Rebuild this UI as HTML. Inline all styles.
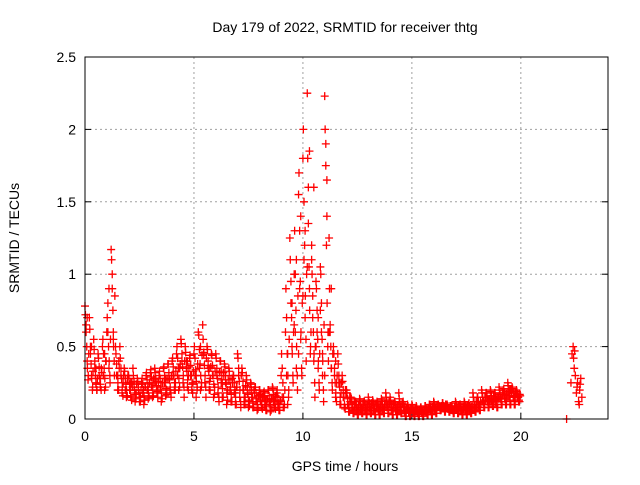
<!DOCTYPE html>
<html><head><meta charset="utf-8"><style>
body{margin:0;background:#fff}
svg text{font-family:"Liberation Sans",sans-serif;font-size:14px;fill:#000}
</style></head><body>
<svg id="c" width="640" height="480" xmlns="http://www.w3.org/2000/svg">
<rect width="640" height="480" fill="#fff"/>
<text x="345" y="32" text-anchor="middle">Day 179 of 2022, SRMTID for receiver thtg</text>
<text x="0" y="0" text-anchor="middle" transform="translate(19,238) rotate(-90)">SRMTID / TECUs</text>
<text x="345" y="471" text-anchor="middle">GPS time / hours</text>
<g id="grid"></g>
<g id="ticks"></g>
<g id="pts"></g>
<rect x="85" y="57" width="523" height="362" fill="none" stroke="#000" stroke-width="1"/>
</svg>
<script>
const xTicks=[0,5,10,15,20];
const yTicks=[0,0.5,1,1.5,2,2.5];
const yTickLabels=["0","0.5","1","1.5","2","2.5"];
const binStep=0.2;
const binVals=[
[0.78,0.6,0.4,0.3],[0.7,0.45,0.3,0.22],[0.55,0.35,0.25,0.2],[0.45,0.3,0.22,0.35],[0.5,0.3,0.2,0.4],
[0.6,0.8,0.35,0.25],[1.17,1.0,0.6,0.3],[0.5,0.3,0.2,0.4],[0.5,0.3,0.18,0.25],[0.35,0.2,0.15,0.28],
[0.3,0.2,0.15,0.25],[0.35,0.22,0.12,0.18],[0.28,0.2,0.12,0.15],[0.25,0.18,0.1,0.22],[0.3,0.2,0.14,0.25],
[0.32,0.22,0.15,0.28],[0.35,0.25,0.18,0.2],[0.3,0.2,0.12,0.25],[0.35,0.25,0.16,0.2],[0.38,0.28,0.2,0.15],
[0.4,0.3,0.2,0.25],[0.45,0.3,0.2,0.35],[0.55,0.4,0.25,0.15],[0.5,0.35,0.22,0.3],[0.42,0.3,0.2,0.25],
[0.45,0.3,0.15,0.22],[0.6,0.35,0.2,0.25],[0.65,0.45,0.25,0.15],[0.5,0.35,0.2,0.28],[0.45,0.3,0.15,0.22],
[0.45,0.3,0.18,0.12],[0.4,0.25,0.15,0.32],[0.38,0.25,0.1,0.2],[0.35,0.2,0.12,0.28],[0.3,0.18,0.1,0.22],
[0.45,0.3,0.15,0.08],[0.35,0.2,0.1,0.15],[0.3,0.18,0.08,0.12],[0.25,0.15,0.08,0.2],[0.22,0.12,0.06,0.16],
[0.2,0.12,0.08,0.15],[0.18,0.1,0.06,0.13],[0.2,0.1,0.05,0.14],[0.22,0.12,0.08,0.16],[0.18,0.1,0.06,0.12],
[0.3,0.15,0.08,0.1],[0.6,0.3,0.1,0.2],[1.25,0.8,0.5,0.25],[1.0,0.6,0.35,0.2],[1.55,0.9,0.55,0.3],
[1.8,1.1,0.7,0.4],[2.25,1.6,0.9,0.5],[1.1,0.7,0.4,0.15],[0.95,0.6,0.35,0.2],[1.05,0.6,0.3,0.12],
[2.23,1.9,1.4,0.6],[1.25,0.6,0.35,0.2],[0.5,0.3,0.15,0.25],[0.45,0.25,0.1,0.18],[0.3,0.15,0.08,0.2],
[0.2,0.1,0.05,0.15],[0.15,0.08,0.04,0.12],[0.12,0.06,0.03,0.09],[0.14,0.07,0.04,0.1],[0.12,0.06,0.03,0.09],
[0.15,0.08,0.04,0.11],[0.13,0.07,0.03,0.1],[0.12,0.06,0.03,0.09],[0.14,0.07,0.04,0.1],[0.18,0.08,0.04,0.12],
[0.15,0.07,0.03,0.1],[0.12,0.06,0.03,0.09],[0.18,0.08,0.04,0.11],[0.12,0.05,0.02,0.08],[0.1,0.05,0.02,0.07],
[0.1,0.05,0.02,0.07],[0.09,0.04,0.02,0.06],[0.08,0.04,0.02,0.06],[0.09,0.05,0.03,0.07],[0.1,0.06,0.03,0.08],
[0.12,0.07,0.04,0.09],[0.1,0.08,0.06,0.09],[0.11,0.08,0.05,0.1],[0.1,0.07,0.05,0.09],[0.09,0.06,0.04,0.08],
[0.12,0.07,0.04,0.09],[0.1,0.06,0.03,0.08],[0.12,0.06,0.03,0.09],[0.1,0.06,0.04,0.08],[0.18,0.08,0.05,0.12],
[0.15,0.1,0.06,0.12],[0.2,0.12,0.08,0.15],[0.18,0.12,0.08,0.14],[0.2,0.13,0.09,0.16],[0.18,0.12,0.08,0.15],
[0.22,0.14,0.1,0.18],[0.2,0.14,0.1,0.17],[0.25,0.16,0.1,0.2],[0.22,0.15,0.1,0.18],[0.2,0.15,0.12,0.17]
];
const binVals2=[
[0.72,0.65,0.5,0.35,0.27,0.45],[0.62,0.5,0.38,0.28,0.2,0.33],[0.48,0.4,0.3,0.24,0.2,0.28],[0.42,0.36,0.28,0.24,0.2,0.32],[0.55,0.45,0.35,0.28,0.22,0.4],
[0.7,0.6,0.5,0.4,0.3,0.55],[1.1,0.9,0.75,0.5,0.4,0.85],[0.45,0.38,0.3,0.25,0.2,0.35],[0.42,0.35,0.28,0.22,0.16,0.3],[0.33,0.28,0.24,0.2,0.16,0.3],
[0.28,0.24,0.2,0.16,0.13,0.22],[0.3,0.26,0.2,0.17,0.14,0.24],[0.26,0.22,0.18,0.15,0.12,0.2],[0.28,0.24,0.2,0.16,0.13,0.22],[0.32,0.27,0.22,0.18,0.15,0.25],
[0.34,0.29,0.24,0.2,0.16,0.27],[0.32,0.28,0.23,0.19,0.15,0.26],[0.33,0.28,0.22,0.18,0.14,0.25],[0.36,0.3,0.25,0.21,0.17,0.28],[0.38,0.32,0.27,0.22,0.18,0.3],
[0.42,0.36,0.3,0.25,0.2,0.33],[0.5,0.42,0.35,0.28,0.22,0.38],[0.52,0.45,0.36,0.3,0.22,0.4],[0.46,0.4,0.33,0.27,0.2,0.36],[0.44,0.37,0.3,0.24,0.18,0.33],
[0.5,0.42,0.34,0.26,0.2,0.38],[0.58,0.48,0.38,0.3,0.22,0.44],[0.55,0.46,0.37,0.3,0.22,0.42],[0.48,0.4,0.33,0.26,0.2,0.36],[0.44,0.37,0.3,0.24,0.17,0.33],
[0.42,0.35,0.28,0.22,0.15,0.32],[0.4,0.33,0.27,0.21,0.15,0.3],[0.36,0.3,0.24,0.18,0.13,0.27],[0.33,0.27,0.22,0.17,0.12,0.25],[0.3,0.25,0.2,0.15,0.1,0.22],
[0.42,0.35,0.26,0.2,0.12,0.3],[0.32,0.26,0.2,0.15,0.1,0.23],[0.27,0.22,0.17,0.13,0.09,0.2],[0.24,0.2,0.15,0.11,0.08,0.18],[0.22,0.18,0.14,0.1,0.07,0.16],
[0.2,0.17,0.13,0.1,0.07,0.15],[0.19,0.16,0.12,0.09,0.06,0.14],[0.2,0.16,0.12,0.09,0.06,0.14],[0.21,0.17,0.13,0.1,0.07,0.15],[0.2,0.15,0.11,0.08,0.06,0.13],
[0.45,0.35,0.25,0.15,0.08,0.2],[0.9,0.7,0.45,0.3,0.15,0.55],[1.1,0.95,0.7,0.45,0.3,0.6],[1.3,1.0,0.75,0.5,0.3,0.85],[1.7,1.3,0.95,0.6,0.35,0.8],
[2.0,1.5,1.2,0.85,0.55,1.0],[1.8,1.35,1.05,0.75,0.45,0.6],[1.0,0.85,0.6,0.45,0.25,0.5],[0.9,0.75,0.55,0.4,0.25,0.45],[1.0,0.8,0.55,0.4,0.2,0.65],
[2.0,1.75,1.2,0.8,0.5,0.4],[0.9,0.65,0.5,0.35,0.25,0.45],[0.45,0.35,0.25,0.18,0.12,0.3],[0.38,0.3,0.22,0.15,0.1,0.25],[0.26,0.2,0.15,0.1,0.07,0.18],
[0.18,0.14,0.1,0.07,0.05,0.12],[0.14,0.11,0.08,0.06,0.04,0.1],[0.12,0.1,0.07,0.05,0.03,0.09],[0.13,0.1,0.08,0.06,0.04,0.1],[0.12,0.1,0.07,0.05,0.03,0.09],
[0.13,0.11,0.08,0.06,0.04,0.1],[0.12,0.1,0.07,0.05,0.03,0.09],[0.11,0.09,0.07,0.05,0.03,0.08],[0.13,0.1,0.08,0.06,0.04,0.1],[0.15,0.12,0.09,0.06,0.04,0.11],
[0.13,0.1,0.08,0.06,0.03,0.1],[0.12,0.1,0.07,0.05,0.03,0.09],[0.14,0.11,0.08,0.06,0.04,0.1],[0.1,0.08,0.06,0.04,0.02,0.07],[0.09,0.07,0.05,0.04,0.02,0.06],
[0.09,0.07,0.05,0.04,0.02,0.06],[0.08,0.06,0.05,0.03,0.02,0.06],[0.08,0.06,0.05,0.04,0.02,0.06],[0.09,0.07,0.06,0.04,0.03,0.07],[0.1,0.08,0.06,0.05,0.03,0.08],
[0.11,0.09,0.07,0.06,0.04,0.08],[0.1,0.09,0.08,0.07,0.06,0.09],[0.11,0.09,0.08,0.06,0.05,0.09],[0.1,0.09,0.07,0.06,0.05,0.08],[0.09,0.08,0.06,0.05,0.04,0.07],
[0.11,0.09,0.07,0.05,0.04,0.08],[0.1,0.08,0.06,0.04,0.03,0.07],[0.11,0.09,0.07,0.05,0.03,0.08],[0.11,0.09,0.07,0.05,0.04,0.08],[0.15,0.12,0.09,0.07,0.05,0.1],
[0.15,0.12,0.1,0.08,0.06,0.11],[0.18,0.15,0.12,0.1,0.08,0.13],[0.18,0.15,0.12,0.1,0.08,0.13],[0.19,0.16,0.13,0.11,0.09,0.14],[0.18,0.15,0.13,0.1,0.08,0.14],
[0.2,0.17,0.14,0.12,0.1,0.16],[0.21,0.18,0.15,0.12,0.1,0.16],[0.23,0.19,0.16,0.13,0.1,0.18],[0.21,0.18,0.15,0.12,0.1,0.16],[0.19,0.17,0.15,0.13,0.12,0.16]
];
const extraT=[0.1,0.3,0.5,0.7,0.9,1.1,1.3,1.5,2.1,2.9,3.7,4.3,4.7,5.1,5.3,5.7,6.3,6.9,7.3,8.7,
9.3,9.5,9.7,9.9,10.1,10.3,10.5,10.7,10.9,11.1,11.3,11.5,11.7,9.6,9.8,10.0,10.2,10.4,10.6,10.8,11.0,11.2,
12.5,13.5,14.5,16.5,17.5,18.5,19.5,19.7,
22.1,22.3,22.35,22.4,22.45,22.5,22.55,22.6,22.65,22.7,22.75,22.8,22.42,22.47,22.58,22.68,22.72];
const extraV=[0.7,0.5,0.35,0.28,0.45,0.9,0.55,0.3,0.25,0.2,0.28,0.35,0.4,0.3,0.5,0.35,0.25,0.18,0.12,0.1,
0.45,0.8,1.1,1.4,1.3,1.85,1.6,0.7,0.45,1.65,0.9,0.4,0.25,0.65,0.45,0.85,1.05,1.2,0.5,0.75,0.3,0.6,
0.05,0.06,0.05,0.07,0.07,0.13,0.2,0.15,
0.0,0.25,0.45,0.5,0.35,0.3,0.18,0.25,0.12,0.2,0.28,0.15,0.42,0.47,0.22,0.1,0.24];
const NS="http://www.w3.org/2000/svg";
const X0=85,X1=608,Y0=419,Y1=57,XMAX=24,YMAX=2.5;
function sx(t){return X0+(X1-X0)*t/XMAX;}
function sy(v){return Y0-(Y0-Y1)*v/YMAX;}
const grid=document.getElementById('grid'),ticks=document.getElementById('ticks'),pts=document.getElementById('pts');
function mk(tag,attrs,parent){const e=document.createElementNS(NS,tag);for(const k in attrs)e.setAttribute(k,attrs[k]);parent.appendChild(e);return e;}
xTicks.forEach(t=>{const x=sx(t);
 if(t>0){const g=mk('line',{x1:x,x2:x,y1:Y0,y2:Y1,stroke:'#a0a0a0','stroke-dasharray':'2,3'},grid);
 
 }
 const tk=mk('line',{x1:x,x2:x,y1:Y0,y2:Y0-6,stroke:'#000'},ticks);
 
 
 const tx=mk('text',{x:x,y:Y0+22,'text-anchor':'middle'},ticks);tx.textContent=String(t);
 
 
});
yTicks.forEach((v,i)=>{const y=sy(v);
 if(v>0&&v<YMAX){const g=mk('line',{x1:X0,x2:X1,y1:y,y2:y,stroke:'#a0a0a0','stroke-dasharray':'2,3'},grid);
 
 }
 const tk=mk('line',{x1:X0,x2:X0+6,y1:y,y2:y,stroke:'#000'},ticks);
 
 
 const tk2=mk('line',{x1:X1,x2:X1-6,y1:y,y2:y,stroke:'#000'},ticks);
 
 
 const tx=mk('text',{x:X0-9,y:y+5,'text-anchor':'end'},ticks);tx.textContent=yTickLabels[i];
 
 
});
function plus(t,v,col){const x=sx(t),y=sy(v);
 const p=mk('path',{d:`M${x-4},${y}h8M${x},${y-4}v8`,stroke:col,'stroke-width':1.3,fill:'none'},pts);
 
 
}
binVals.forEach((arr,i)=>{arr.forEach((v,j)=>{plus(i*binStep+j*0.05,v,'#ff0000');});});
binVals2.forEach((arr,i)=>{arr.forEach((v,j)=>{plus(i*binStep+0.1+j*0.03-0.08,v,'#ff0000');});});
extraT.forEach((t,i)=>plus(t,extraV[i],'#ff0000'));
</script>
</body></html>
